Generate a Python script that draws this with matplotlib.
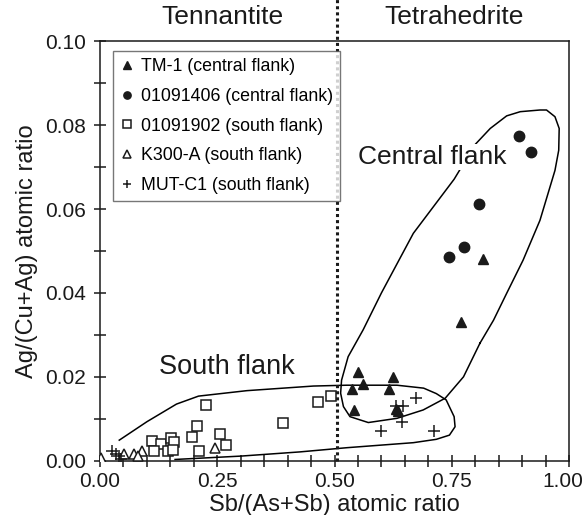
import matplotlib
matplotlib.use("Agg")
import matplotlib.pyplot as plt
import matplotlib.transforms as mtransforms

plt.rcParams['font.family'] = ['Liberation Sans', 'DejaVu Sans']

# TM-1 (central flank), filled triangles
tm1_x = [0.816, 0.770, 0.551, 0.625, 0.561, 0.537, 0.617, 0.542, 0.630, 0.636]
tm1_y = [0.0482, 0.0330, 0.0212, 0.0199, 0.0183, 0.0171, 0.0170, 0.0122, 0.0124, 0.0118]

# 01091406 (central flank), filled circles
c14_x = [0.894, 0.919, 0.809, 0.777, 0.744]
c14_y = [0.0775, 0.0737, 0.0611, 0.0509, 0.0485]

# 01091902 (south flank), open squares
s19_x = [0.225, 0.206, 0.197, 0.256, 0.268, 0.210, 0.110, 0.131, 0.116,
         0.151, 0.158, 0.144, 0.155, 0.391, 0.465, 0.492]
s19_y = [0.0133, 0.0083, 0.0057, 0.0064, 0.0038, 0.0024, 0.0047, 0.0039, 0.0024,
         0.0053, 0.0045, 0.0024, 0.0025, 0.0089, 0.0140, 0.0154]

# K300-A (south flank), open triangles
k300_x = [0.002, 0.052, 0.073, 0.089, 0.080, 0.245]
k300_y = [0.0006, 0.0015, 0.0015, 0.0023, 0.0012, 0.0031]

# MUT-C1 (south flank), plus signs
mut_x = [0.025, 0.033, 0.040, 0.045, 0.632, 0.645, 0.674, 0.643, 0.600, 0.713]
mut_y = [0.0022, 0.0016, 0.0012, 0.0003, 0.0130, 0.0130, 0.0150, 0.0093, 0.0071, 0.0071]

# hand drawn field outlines
south_x = [0.041, 0.100, 0.163, 0.210, 0.313, 0.455, 0.526, 0.633, 0.690, 0.717,
           0.738, 0.755, 0.757, 0.745, 0.717, 0.668, 0.526, 0.426, 0.300, 0.160]
south_y = [0.0049, 0.0093, 0.0135, 0.0154, 0.0167, 0.0178, 0.0180, 0.0180, 0.0173, 0.0160,
           0.0145, 0.0105, 0.0081, 0.0061, 0.0051, 0.0043, 0.0031, 0.0021, 0.0011, 0.0003]

central_x = [0.810, 0.775, 0.736, 0.689, 0.633, 0.572, 0.533, 0.519, 0.513, 0.515,
             0.529, 0.561, 0.600, 0.668, 0.755, 0.800, 0.832, 0.867, 0.896, 0.938,
             0.952, 0.970, 0.979, 0.978, 0.970, 0.938, 0.902, 0.867, 0.839, 0.810]
central_y = [0.0280, 0.0200, 0.0149, 0.0121, 0.0101, 0.0091, 0.0105, 0.0129, 0.0161, 0.0192,
             0.0248, 0.0312, 0.0400, 0.0542, 0.0671, 0.0754, 0.0792, 0.0822, 0.0832, 0.0836,
             0.0836, 0.0820, 0.0792, 0.0740, 0.0692, 0.0573, 0.0478, 0.0399, 0.0335, 0.0280]

xtick_labels = ['0.00', '0.25', '0.50', '0.75', '1.00']
ytick_labels = ['0.00', '0.02', '0.04', '0.06', '0.08', '0.10']

boundary = 0.505
ink = '#1a1a1a'

fig = plt.figure(figsize=(5.87, 5.15), dpi=100)
ax = fig.add_axes([0.1704, 0.1054, 0.799, 0.8146])

ax.plot(south_x, south_y, color='black', lw=1.1, zorder=2)
ax.plot(central_x, central_y, color='black', lw=1.1, zorder=2)

ax.plot(tm1_x, tm1_y, '^', color=ink, ms=7.5, ls='none', label='TM-1 (central flank)', zorder=4)
ax.plot(c14_x, c14_y, 'o', color=ink, ms=7.5, ls='none', label='01091406 (central flank)', zorder=4)
ax.plot(s19_x, s19_y, 's', mfc='white', mec=ink, mew=1.1, ms=7.5, ls='none',
        label='01091902 (south flank)', zorder=3)
ax.plot(k300_x, k300_y, '^', mfc='white', mec=ink, mew=1.1, ms=7.5, ls='none',
        label='K300-A (south flank)', zorder=3)
ax.plot(mut_x, mut_y, '+', color=ink, mew=1.1, ms=9, ls='none',
        label='MUT-C1 (south flank)', zorder=4)

# dotted boundary running above the frame
trans = mtransforms.blended_transform_factory(ax.transData, ax.transAxes)
ax.plot([boundary, boundary], [0, 1.11], transform=trans, color=ink,
        ls=(0, (1, 1)), lw=2.2, clip_on=False, zorder=5)

ax.text(0.26, 1.03, 'Tennantite', transform=trans, ha='center', va='bottom', fontsize=19, color=ink)
ax.text(0.755, 1.03, 'Tetrahedrite', transform=trans, ha='center', va='bottom', fontsize=19, color=ink)

ax.text(0.271, 0.0224, 'South flank', ha='center', va='center', fontsize=19.5, color=ink, zorder=6)
ax.text(0.708, 0.0724, 'Central flank', ha='center', va='center', fontsize=19, color=ink, zorder=6,
        bbox=dict(facecolor='white', edgecolor='none', pad=1))

ax.set_xlim(0, 1.0)
ax.set_ylim(0, 0.10)
ax.set_xticks([0, 0.25, 0.5, 0.75, 1.0])
ax.set_xticklabels(xtick_labels)
ax.set_xticks([i * 0.05 for i in range(21)], minor=True)
ax.set_yticks([0, 0.02, 0.04, 0.06, 0.08, 0.10])
ax.set_yticklabels(ytick_labels)
ax.set_yticks([i * 0.01 for i in range(11)], minor=True)
ax.tick_params(which='both', direction='inout', length=8, width=1.1, labelsize=15,
               top=False, right=False, colors=ink)
ax.tick_params(axis='x', which='major', pad=4)
ax.tick_params(axis='y', which='major', pad=6)
for s in ax.spines.values():
    s.set_linewidth(1.1)
    s.set_color(ink)

# last x tick label sits a little left so it stays inside the figure
last = ax.get_xticklabels()[-1]
last.set_transform(last.get_transform() + mtransforms.ScaledTranslation(-0.06, 0, fig.dpi_scale_trans))

ax.set_xlabel('Sb/(As+Sb) atomic ratio', fontsize=17, labelpad=2, color=ink)
ax.set_ylabel('Ag/(Cu+Ag) atomic ratio', fontsize=17, labelpad=5, color=ink)

leg = ax.legend(loc='upper left', bbox_to_anchor=(0.0277, 0.9767), fontsize=12.8, markerscale=0.7,
                frameon=True, fancybox=False, edgecolor='#555555', handlelength=0.8,
                handletextpad=0.35, borderpad=0.4, labelspacing=0.72, borderaxespad=0)
leg.get_frame().set_linewidth(1.0)

fig.savefig('out.png', dpi=100)
